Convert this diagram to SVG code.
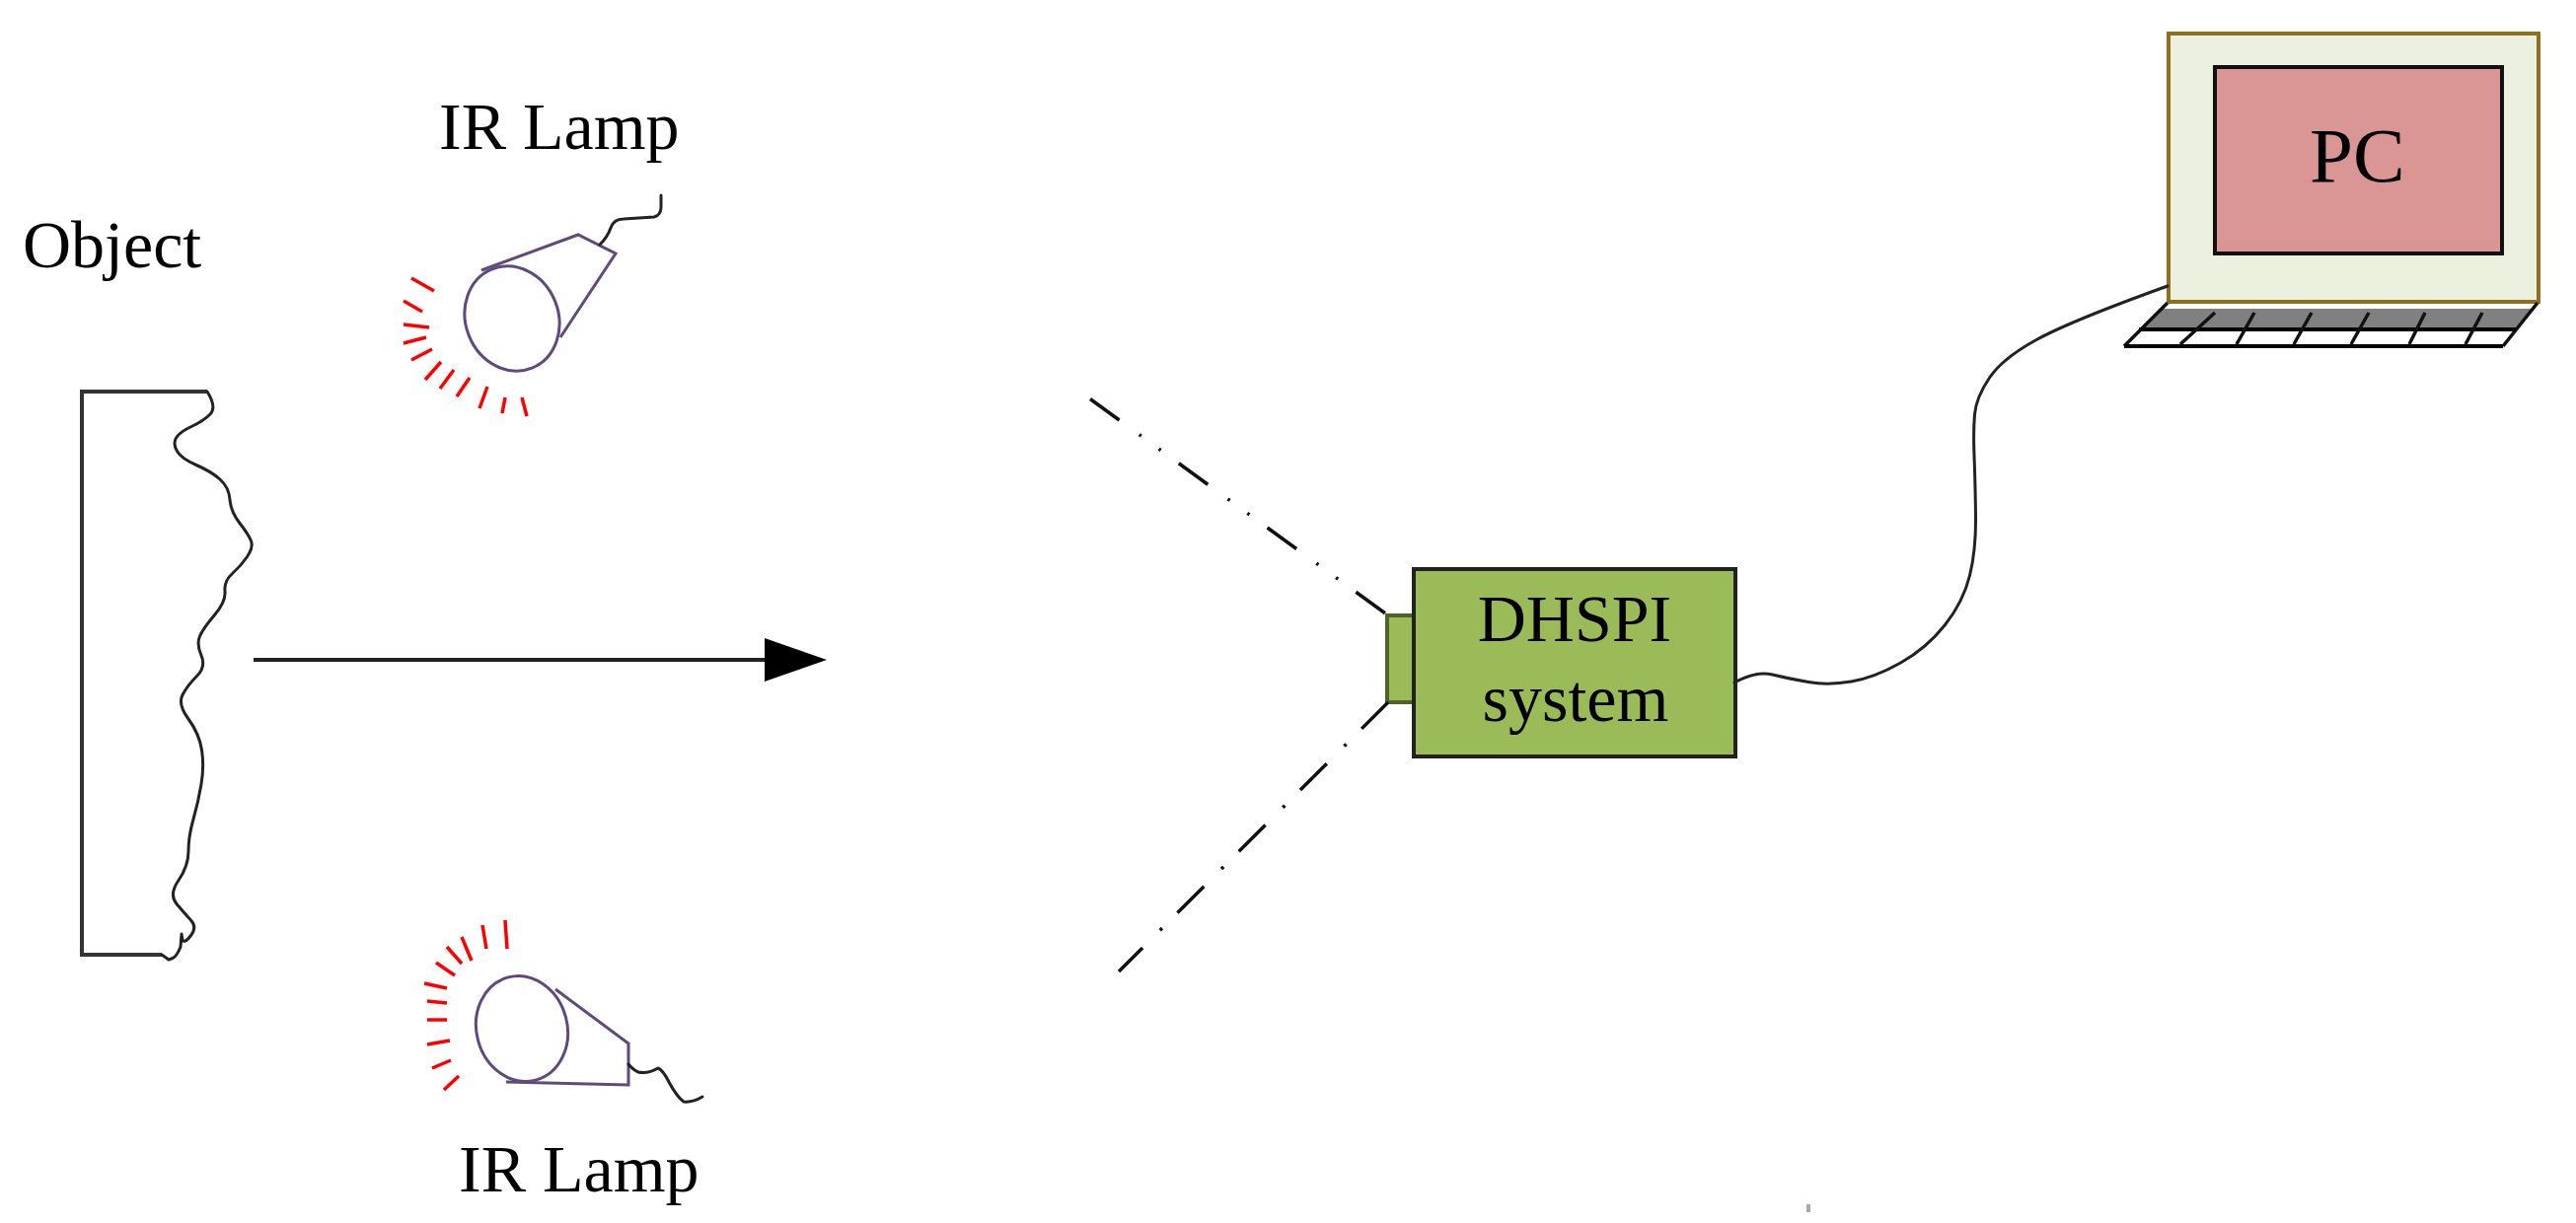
<svg xmlns="http://www.w3.org/2000/svg" width="2611" height="1240" viewBox="0 0 2611 1240">
<style>
text{font-family:"Liberation Serif","Times New Roman",serif;fill:#000;font-size:68px}
.lamp{fill:none;stroke:#604A7B;stroke-width:3}
.wire{fill:none;stroke:#222;stroke-width:3;stroke-linecap:round;stroke-linejoin:round}
.ray{stroke:#F00;stroke-width:3.5;fill:none}
.dash{fill:none;stroke:#111;stroke-width:3.5}
.key{stroke:#111;stroke-width:3.5;fill:none}
</style>
<defs>
<marker id="head" markerUnits="userSpaceOnUse" markerWidth="63" markerHeight="44" viewBox="0 0 63 44" refX="0" refY="22" orient="auto"><path d="M0 0L63 22L0 44Z" fill="#000"/></marker>
</defs>
<rect width="2611" height="1240" fill="#fff"/>
<g id="object">
<path d="M210 397H83V968H164" fill="none" stroke="#333" stroke-width="4"/>
<path class="wire" d="M210 397Q220 413 213 420Q206 427 194 432.5Q182 438 178.5 444Q175 450 179.5 457.5Q184 465 199 471.5Q214 478 223 486Q232 494 233 506.5Q234 519 243 530.5Q252 542 254.5 548.5Q257 555 250.5 564.5Q244 574 235.5 581.5Q227 589 228 599.5Q229 610 217.5 623.5Q206 637 202.5 645Q199 653 204 664.5Q209 676 199.5 685.5Q190 695 185 704.5Q180 714 191 729Q202 744 204.5 760.5Q207 777 204 795Q201 813 196 830.5Q191 848 191 863Q191 878 181 892.5Q171 907 179 916.5Q187 926 193.5 933Q200 940 193.5 948.5Q187 957 185 953L184 947L183 960Q179 970 175 971.5L171 973L164 968"/>
<text x="23" y="271">Object</text>
</g>
<g id="lamp-top">
<ellipse class="lamp" cx="519" cy="323" rx="47" ry="54" transform="rotate(-22 519 323)"/>
<path class="lamp" d="M488 274L586 238L624 257L568 342"/>
<path class="wire" d="M608 248Q616 240 619 231Q622 222 632 222L663 220Q670 218 670 210V198"/>
<path class="ray" d="M417 282L440 295M409 305L428 316M409 329L435 332M409 348L432 342M417 365L438 354M431 385L447 367M446 394L460 375M463 402L476 383M486 414L494 392M509 419L512 403M534 422L529 403"/>
<text x="445" y="151">IR Lamp</text>
</g>
<g id="lamp-bottom">
<ellipse class="lamp" cx="529" cy="1043" rx="46" ry="54" transform="rotate(-15 529 1043)"/>
<path class="lamp" d="M563 1003L637 1058V1100L513 1097"/>
<path class="wire" d="M637 1079Q642 1085 647 1087Q657 1089 667 1083Q672 1085 678 1097Q686 1112 693 1117Q702 1118 712 1112"/>
<path class="ray" d="M512 933L514 962M489 938L493 962M468 950L478 974M453 960L468 977M442 976L461 989M430 997L453 1002M433 1015L453 1017M433 1034L453 1034M433 1059L456 1055M438 1083L457 1075M450 1105L465 1091"/>
<text x="465" y="1208">IR Lamp</text>
</g>
<g id="dhspi">
<rect x="1406" y="624" width="28" height="88" fill="#9BBB59" stroke="#4F6228" stroke-width="4"/>
<rect x="1433" y="577" width="326" height="190" fill="#9BBB59" stroke="#222" stroke-width="4"/>
<text x="1596" y="650" text-anchor="middle">DHSPI</text>
<text x="1597" y="731" text-anchor="middle">system</text>
</g>
<g id="pc">
<rect x="2198" y="34" width="375" height="272" fill="#EBF1DE" stroke="#8F7020" stroke-width="4"/>
<rect x="2245" y="68" width="291" height="189" fill="#D99694" stroke="#111" stroke-width="4"/>
<text x="2341" y="184" style="font-size:79px">PC</text>
<path d="M2192 313H2567L2550 334H2168Z" fill="#808080"/>
<path d="M2168 334H2550L2537 351H2153Z" fill="#fff"/>
<path class="key" d="M2197 307L2153 351M2572 307L2537 351"/>
<path d="M2168 334H2550M2153 351H2537" stroke="#000" stroke-width="4" fill="none"/>
<path class="key" d="M2245 317L2210 349M2285 317L2267 349M2343 317L2325 349M2401 317L2383 349M2458 317L2442 349M2516 317L2499 349"/>
</g>
<g id="connectors">
<line x1="257" y1="669" x2="775" y2="669" stroke="#222" stroke-width="4" marker-end="url(#head)"/>
<path class="dash" stroke-dasharray="36.5 25 2.5 22 2.5 22.5" d="M1105 404.5L1407 624"/>
<path class="dash" stroke-dasharray="38 22 3 25" d="M1407 712L1134 985"/>
<path class="wire" d="M1758 692Q1780 680 1796.5 684Q1813 688 1833 691.5Q1853 695 1876.5 691Q1900 687 1926.5 672Q1953 657 1971.5 633.5Q1990 610 1996.5 583.5Q2003 557 2002.5 522Q2002 487 2001 462Q2000 437 2001.5 420Q2003 403 2016.5 383Q2030 363 2065 344Q2100 325 2197 290"/>
</g>
<rect id="speck" x="1831" y="1221" width="4" height="8" fill="#aaa"/>
</svg>
